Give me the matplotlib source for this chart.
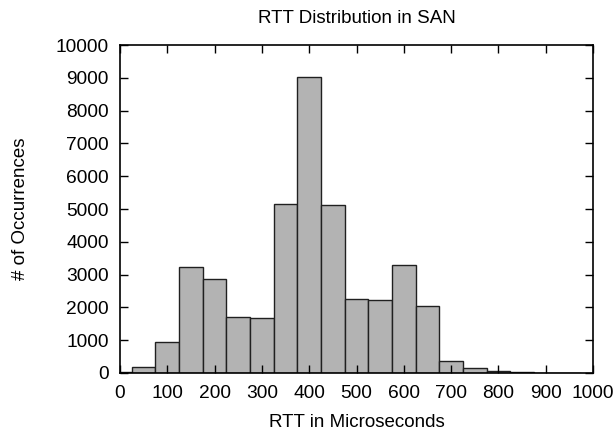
import matplotlib
matplotlib.use("Agg")
import matplotlib.pyplot as plt

plt.rcParams['font.family'] = ['Liberation Sans', 'DejaVu Sans']

bin_centers = [0, 50, 100, 150, 200, 250, 300, 350, 400, 450, 500,
               550, 600, 650, 700, 750, 800, 850, 900, 950]
counts = [30, 183, 948, 3230, 2875, 1700, 1680, 5166, 9016, 5117, 2263,
          2220, 3290, 2028, 367, 162, 61, 25, 5, 3]
x_ticks = [0, 100, 200, 300, 400, 500, 600, 700, 800, 900, 1000]
y_ticks = [0, 1000, 2000, 3000, 4000, 5000, 6000, 7000, 8000, 9000, 10000]

fig = plt.figure(figsize=(6.16, 4.30), dpi=100)
ax = fig.add_axes([0.1948, 0.1326, 0.9627 - 0.1948, 0.8953 - 0.1326])

ax.bar(bin_centers, counts, width=50, color='#b3b3b3', edgecolor='#202020',
       linewidth=1.0, align='center')

ax.set_xlim(0, 1000)
ax.set_ylim(0, 10000)
ax.set_xticks(x_ticks)
ax.set_yticks(y_ticks)
ax.tick_params(direction='in', length=5.5, width=1.0, top=True, right=True,
               labelsize=13.8, colors='black')
ax.tick_params(axis='x', pad=9)
ax.tick_params(axis='y', pad=8)
for s in ax.spines.values():
    s.set_linewidth(1.2)

ax.set_title('RTT Distribution in SAN', fontsize=13.5, pad=15.5)
ax.set_xlabel('RTT in Microseconds', fontsize=13.5, labelpad=8.5)
ax.set_ylabel('# of Occurrences', fontsize=13.5, labelpad=19)

fig.savefig('out.png', dpi=100)
